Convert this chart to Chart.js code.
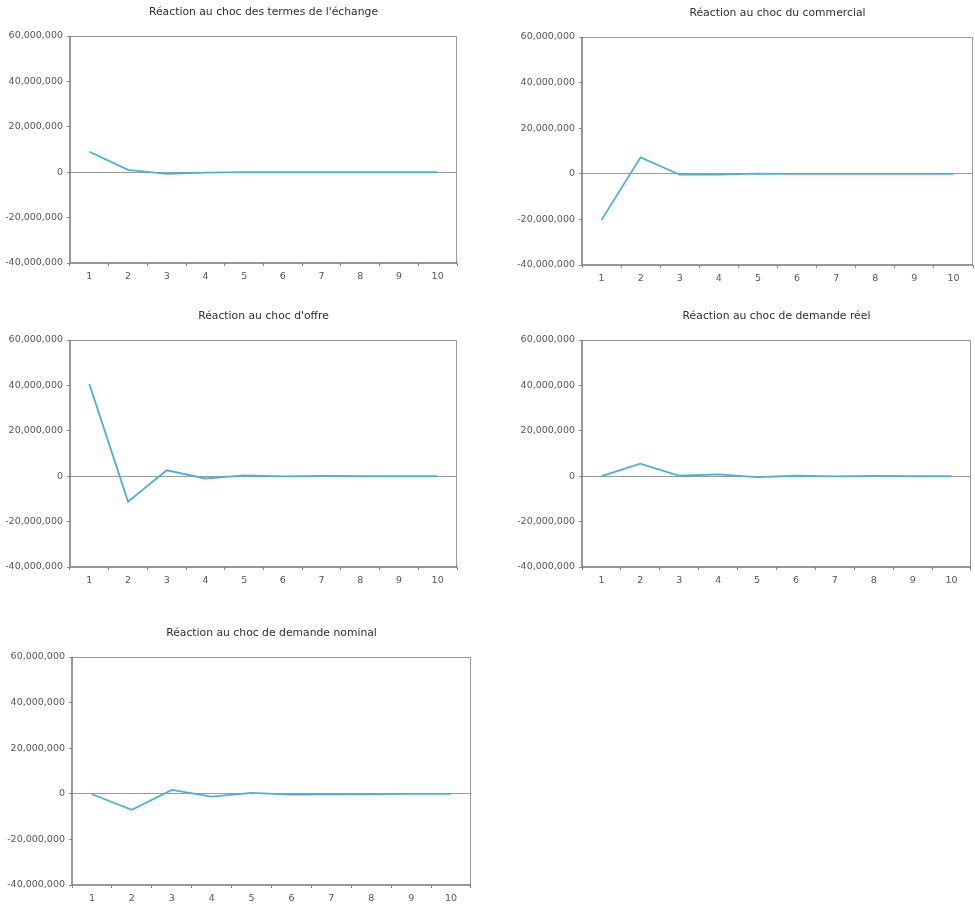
<!DOCTYPE html>
<html>
<head>
<meta charset="utf-8">
<script src="https://cdn.jsdelivr.net/npm/chart.js@4.4.1/dist/chart.umd.min.js"></script>
<style>
  html, body { margin: 0; padding: 0; background: #fff; }
  body { width: 975px; height: 904px; position: relative; overflow: hidden; }
  .panel { position: absolute; }
</style>
</head>
<body>
<div id="p1" class="panel"><canvas></canvas></div>
<div id="p2" class="panel"><canvas></canvas></div>
<div id="p3" class="panel"><canvas></canvas></div>
<div id="p4" class="panel"><canvas></canvas></div>
<div id="p5" class="panel"><canvas></canvas></div>
<script>
// Horizon (periods) shared by every response
const periods = ['1', '2', '3', '4', '5', '6', '7', '8', '9', '10'];

// Y-axis tick values shared by every panel
const yTicks = [-40000000, -20000000, 0, 20000000, 40000000, 60000000];

// Panel titles
const titles = [
  "Réaction au choc des termes de l'échange",
  "Réaction au choc du commercial",
  "Réaction au choc d'offre",
  "Réaction au choc de demande réel",
  "Réaction au choc de demande nominal"
];

// Impulse responses, one array per shock
const termesEchange = [9000000, 1000000, -700000, -150000, 50000, 0, 0, 0, 0, 0];
const commercial    = [-20200000, 7200000, -400000, -300000, 100000, 0, 0, 0, 0, 0];
const offre         = [40600000, -11200000, 2600000, -1000000, 400000, -100000, 100000, 0, 0, 0];
const demandeReel   = [0, 5500000, 200000, 800000, -400000, 200000, -100000, 100000, 0, 0];
const demandeNominal = [-200000, -7000000, 1700000, -1200000, 400000, -400000, -200000, -100000, 0, 0];

const series = [termesEchange, commercial, offre, demandeReel, demandeNominal];

// Plot-area rectangles for the five panels (left, top, right, bottom)
const frames = [
  { l: 70,  t: 36,  r: 457, b: 263 },
  { l: 582, t: 37,  r: 973, b: 265 },
  { l: 70,  t: 340, r: 457, b: 567 },
  { l: 582, t: 340, r: 971, b: 567 },
  { l: 72,  t: 657, r: 471, b: 885 }
];

const Y_AXIS_W = 70;
const TOP_H = 36;
const X_AXIS_H = 28;
const RIGHT_PAD = 3;
const FONT = "'DejaVu Sans', Arial, sans-serif";
const TITLE_SIZE = 10.8;

function fmt(v) {
  return v.toLocaleString('en-US');
}

// Frame drawn around the plot area
const boxPlugin = {
  id: 'plotBox',
  afterDatasetsDraw(chart) {
    const a = chart.chartArea;
    const ctx = chart.ctx;
    ctx.save();
    ctx.strokeStyle = '#9a9a9a';
    ctx.lineWidth = 1;
    ctx.beginPath();
    ctx.moveTo(a.left, a.top + 0.5);
    ctx.lineTo(a.right - 0.5, a.top + 0.5);
    ctx.lineTo(a.right - 0.5, a.bottom);
    ctx.stroke();
    ctx.strokeStyle = '#777';
    ctx.lineWidth = 1.5;
    ctx.beginPath();
    ctx.moveTo(a.left, a.top);
    ctx.lineTo(a.left, a.bottom);
    ctx.lineTo(a.right, a.bottom);
    ctx.stroke();
    ctx.restore();
  }
};

frames.forEach((f, i) => {
  const div = document.getElementById('p' + (i + 1));
  const w = (f.r - f.l) + Y_AXIS_W + RIGHT_PAD;
  const h = (f.b - f.t) + TOP_H + X_AXIS_H;
  div.style.left = (f.l - Y_AXIS_W) + 'px';
  div.style.top = (f.t - TOP_H) + 'px';
  div.style.width = w + 'px';
  div.style.height = h + 'px';

  new Chart(div.querySelector('canvas'), {
    type: 'line',
    data: {
      labels: periods,
      datasets: [{
        data: series[i],
        borderColor: '#4cb0d4',
        borderWidth: 1.8,
        pointRadius: 0,
        tension: 0,
        fill: false
      }]
    },
    options: {
      responsive: true,
      maintainAspectRatio: false,
      animation: false,
      layout: { padding: { left: 0, right: RIGHT_PAD, top: 0, bottom: 0 } },
      plugins: {
        legend: { display: false },
        tooltip: { enabled: false },
        title: {
          display: true,
          text: titles[i],
          fullSize: false,
          color: '#2e2e2e',
          font: { family: FONT, size: TITLE_SIZE, weight: 'normal', lineHeight: 1.2 },
          padding: { top: 6, bottom: TOP_H - 6 - TITLE_SIZE * 1.2 }
        }
      },
      scales: {
        x: {
          type: 'category',
          offset: true,
          afterFit(scale) { scale.height = X_AXIS_H; },
          border: { display: false },
          grid: {
            offset: true,
            drawOnChartArea: false,
            drawTicks: true,
            tickLength: 3,
            tickColor: '#8a8a8a'
          },
          ticks: {
            color: '#555',
            font: { family: FONT, size: 9.5 },
            padding: 5,
            maxRotation: 0,
            autoSkip: false
          }
        },
        y: {
          min: -40000000,
          max: 60000000,
          afterFit(scale) { scale.width = Y_AXIS_W; },
          afterBuildTicks(scale) {
            scale.ticks = yTicks.map(v => ({ value: v }));
          },
          border: { display: false },
          grid: {
            drawOnChartArea: true,
            drawTicks: true,
            tickLength: 3,
            tickColor: '#8a8a8a',
            color: (ctx) => (ctx.tick && ctx.tick.value === 0) ? '#9a9a9a' : 'rgba(0,0,0,0)',
            lineWidth: 1
          },
          ticks: {
            color: '#555',
            font: { family: FONT, size: 9.5 },
            padding: 4,
            callback: (v) => fmt(v)
          }
        }
      }
    },
    plugins: [boxPlugin]
  });
});
</script>
</body>
</html>
